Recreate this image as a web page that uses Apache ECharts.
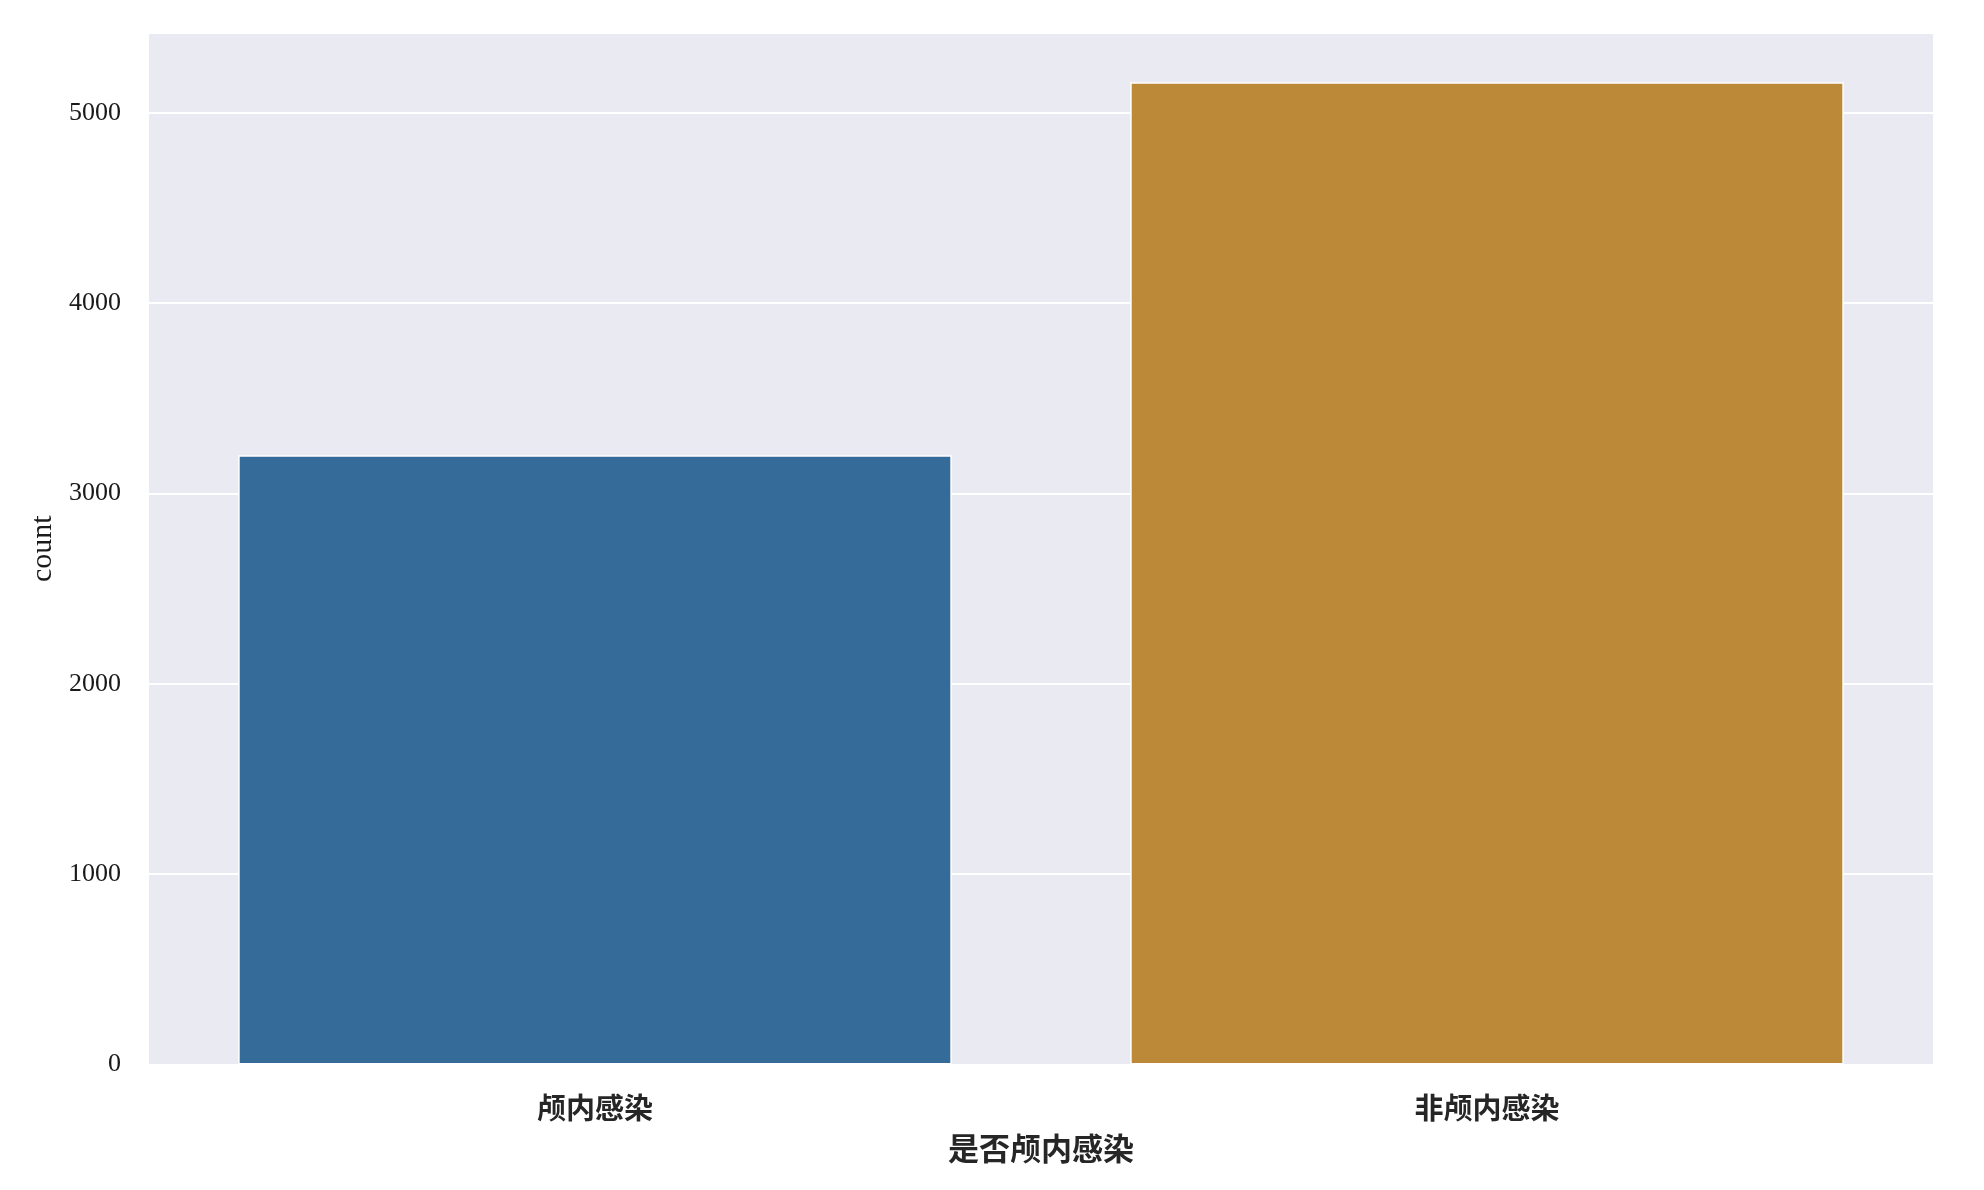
<!DOCTYPE html>
<html>
<head>
<meta charset="utf-8">
<script src="https://cdn.jsdelivr.net/npm/echarts@6/dist/echarts.min.js"></script>
<style>
html,body{margin:0;padding:0;background:#fff;}
#chart{width:1984px;height:1190px;}
</style>
</head>
<body>
<div id="chart"></div>
<script>
const categories = ['颅内感染', '非颅内感染'];
const counts = [3201, 5161];
const barColors = ['#356b99', '#bc8938'];
const yTicks = [0, 1000, 2000, 3000, 4000, 5000];

const chart = echarts.init(document.getElementById('chart'), null, {renderer: 'canvas'});
chart.setOption({
  backgroundColor: '#ffffff',
  animation: false,
  grid: {
    left: 149, top: 33, width: 1784, height: 1031.5,
    show: true, backgroundColor: '#eaeaf2', borderWidth: 0
  },
  xAxis: {
    type: 'category',
    data: categories,
    name: '是否颅内感染',
    nameLocation: 'middle',
    nameGap: 68,
    nameTextStyle: {fontFamily: 'Noto Sans CJK SC', fontWeight: 'bold', fontSize: 31, color: '#262626'},
    axisLine: {show: false},
    axisTick: {show: false},
    splitLine: {show: false},
    axisLabel: {fontFamily: 'Noto Sans CJK SC', fontWeight: 'bold', fontSize: 29, color: '#262626', margin: 29}
  },
  yAxis: {
    type: 'value',
    min: 0, max: 5420, interval: 1000,
    name: 'count',
    nameLocation: 'middle',
    nameGap: 91,
    nameRotate: 90,
    nameTextStyle: {fontFamily: 'Liberation Serif', fontWeight: 'normal', fontSize: 30, color: '#1a1a1a'},
    axisLine: {show: false},
    axisTick: {show: false},
    splitLine: {show: true, lineStyle: {color: '#ffffff', width: 2}},
    axisLabel: {
      fontFamily: 'Liberation Serif', fontWeight: 'normal', fontSize: 26, color: '#1a1a1a', margin: 28,
      formatter: function (v) { return yTicks.indexOf(v) >= 0 ? String(v) : ''; }
    }
  },
  series: [{
    type: 'bar',
    barCategoryGap: '20%',
    data: counts.map(function (v, i) {
      return {value: v, itemStyle: {color: barColors[i]}};
    }),
    itemStyle: {borderColor: '#ffffff', borderWidth: 1.5}
  }]
});
</script>
</body>
</html>
